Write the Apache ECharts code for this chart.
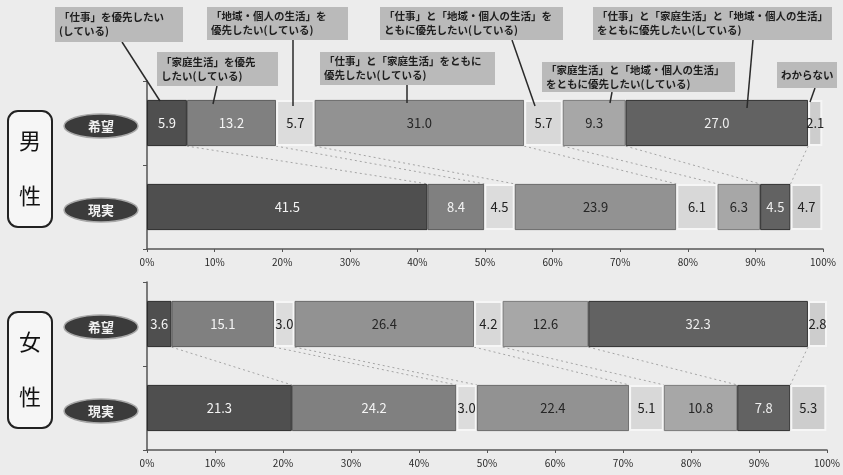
<!DOCTYPE html>
<html><head><meta charset="utf-8">
<script src="https://cdn.jsdelivr.net/npm/echarts@6/dist/echarts.min.js"></script>
<style>html,body{margin:0;padding:0;background:#ececec}#c{width:843px;height:475px}</style>
</head><body><div id="c"></div>
<script>
// ---- data ----
const categories = ['希望', '現実'];
const groupLabels = ['男性', '女性'];
const seriesNames = [
  '「仕事」を優先したい(している)',
  '「家庭生活」を優先したい(している)',
  '「地域・個人の生活」を優先したい(している)',
  '「仕事」と「家庭生活」をともに優先したい(している)',
  '「仕事」と「地域・個人の生活」をともに優先したい(している)',
  '「家庭生活」と「地域・個人の生活」をともに優先したい(している)',
  '「仕事」と「家庭生活」と「地域・個人の生活」をともに優先したい(している)',
  'わからない'
];
const maleWish   = [5.9, 13.2, 5.7, 31.0, 5.7, 9.3, 27.0, 2.1];
const maleReal   = [41.5, 8.4, 4.5, 23.9, 6.1, 6.3, 4.5, 4.7];
const femaleWish = [3.6, 15.1, 3.0, 26.4, 4.2, 12.6, 32.3, 2.8];
const femaleReal = [21.3, 24.2, 3.0, 22.4, 5.1, 10.8, 7.8, 5.3];
const xTickValues = [0, 10, 20, 30, 40, 50, 60, 70, 80, 90, 100];

// callout texts (男性・希望 row)
const calloutTexts = [
  '「仕事」を優先したい\n(している)',
  '「家庭生活」を優先\nしたい(している)',
  '「地域・個人の生活」を\n優先したい(している)',
  '「仕事」と「家庭生活」をともに\n優先したい(している)',
  '「仕事」と「地域・個人の生活」を\nともに優先したい(している)',
  '「家庭生活」と「地域・個人の生活」\nをともに優先したい(している)',
  '「仕事」と「家庭生活」と「地域・個人の生活」\nをともに優先したい(している)',
  'わからない'
];

// ---- style / layout ----
const fills = ['#4f4f4f', '#808080', '#dcdcdc', '#929292', '#d8d8d8', '#a7a7a7', '#626262', '#cdcdcd'];
const labelColors = ['#f4f4f4', '#f4f4f4', '#222', '#262626', '#222', '#262626', '#eeeeee', '#222'];
const borders = [['#2b2b2b', 1], ['#5a5a5a', 1], ['#f6f6f6', 2], ['#6a6a6a', 1], ['#f6f6f6', 2], ['#7a7a7a', 1], ['#2e2e2e', 1], ['#f6f6f6', 2]];
const grids = [
  { left: 147, right: 20, top: 81, height: 168 },
  { left: 147, right: 16, top: 282, height: 168 }
];
const calloutBoxes = [
  { x: 55, y: 7, w: 128, h: 35, lx1: 122, ly1: 42, lx2: 160, ly2: 101 },
  { x: 157, y: 52, w: 121, h: 34, lx1: 217, ly1: 86, lx2: 213, ly2: 104 },
  { x: 207, y: 7, w: 141, h: 33, lx1: 293, ly1: 40, lx2: 293, ly2: 106 },
  { x: 320, y: 52, w: 175, h: 33, lx1: 407, ly1: 85, lx2: 407, ly2: 103 },
  { x: 380, y: 7, w: 183, h: 33, lx1: 512, ly1: 40, lx2: 535, ly2: 106 },
  { x: 542, y: 62, w: 193, h: 30, lx1: 612, ly1: 92, lx2: 610, ly2: 103 },
  { x: 593, y: 7, w: 239, h: 33, lx1: 753, ly1: 40, lx2: 747, ly2: 108 },
  { x: 777, y: 62, w: 60, h: 26, lx1: 815, ly1: 88, lx2: 810, ly2: 102 }
];
const BAR_RATIO = 0.55;
const FONT = '"Noto Sans CJK JP", "Noto Sans", sans-serif';

const groups = [[maleWish, maleReal], [femaleWish, femaleReal]];

function cumulative(arr) {
  let s = 0;
  return arr.slice(0, -1).map(v => (s += v, +s.toFixed(1)));
}

const chart = echarts.init(document.getElementById('c'));

const xAxes = grids.map((g, i) => ({
  type: 'value', gridIndex: i, min: 0, max: 100, interval: 10,
  axisLine: { show: true, lineStyle: { color: '#555', width: 1.5 } },
  axisTick: { show: true, length: 3, lineStyle: { color: '#555' } },
  splitLine: { show: false },
  axisLabel: { formatter: v => xTickValues.includes(v) ? v + '%' : '', color: '#2a2a2a', fontSize: 10, fontFamily: FONT, margin: 8 }
}));
const yAxes = grids.map((g, i) => ({
  type: 'category', gridIndex: i, data: categories, inverse: true,
  axisLine: { show: true, lineStyle: { color: '#555', width: 1.5 } },
  axisTick: { show: true, length: 4, lineStyle: { color: '#555' } },
  axisLabel: { show: false }
}));

const series = [];
groups.forEach((grp, gi) => {
  seriesNames.forEach((name, si) => {
    series.push({
      type: 'bar', name, stack: 'g' + gi, xAxisIndex: gi, yAxisIndex: gi,
      barWidth: (BAR_RATIO * 100) + '%',
      data: [grp[0][si], grp[1][si]],
      itemStyle: { color: fills[si], borderColor: borders[si][0], borderWidth: borders[si][1] },
      label: { show: true, position: 'inside', formatter: p => p.value.toFixed(1), color: labelColors[si], fontSize: 13, fontFamily: FONT },
      emphasis: { disabled: true }
    });
  });
  const cw = cumulative(grp[0]);
  const cr = cumulative(grp[1]);
  series.push({
    type: 'custom', xAxisIndex: gi, yAxisIndex: gi, silent: true, z: 1,
    encode: { x: 0, y: 1 },
    data: cw.map((w, i) => [w, 0, cr[i]]),
    renderItem: (params, api) => {
      const band = api.size([0, 1])[1];
      const h = band * BAR_RATIO / 2;
      const p1 = api.coord([api.value(0), 0]);
      const p2 = api.coord([api.value(2), 1]);
      return { type: 'line', shape: { x1: p1[0], y1: p1[1] + h, x2: p2[0], y2: p2[1] - h },
        style: { stroke: '#a5a5a5', lineDash: [2, 3], lineWidth: 1 } };
    }
  });
});

chart.setOption({
  backgroundColor: '#ececec',
  animation: false,
  grid: grids,
  xAxis: xAxes,
  yAxis: yAxes,
  series
});

// ---- graphics: group boxes, category ellipses, callouts ----
const gfx = [];
groupLabels.forEach((gl, gi) => {
  const top = chart.convertToPixel({ gridIndex: gi }, [0, 0])[1];
  const bot = chart.convertToPixel({ gridIndex: gi }, [0, 1])[1];
  const midY = (top + bot) / 2 + 4;
  gfx.push({ type: 'rect', shape: { x: 8, y: midY - 58, width: 44, height: 116, r: 10 },
    style: { fill: '#f6f6f6', stroke: '#222', lineWidth: 2 }, z: 10 });
  gfx.push({ type: 'text', x: 30, y: midY - 28, style: { text: gl[0], fill: '#111', font: '22px ' + FONT, align: 'center', verticalAlign: 'middle' }, z: 11 });
  gfx.push({ type: 'text', x: 30, y: midY + 27, style: { text: gl[1], fill: '#111', font: '22px ' + FONT, align: 'center', verticalAlign: 'middle' }, z: 11 });
  categories.forEach((c, ci) => {
    const y = chart.convertToPixel({ gridIndex: gi }, [0, ci])[1] + 3;
    gfx.push({ type: 'ellipse', shape: { cx: 101, cy: y, rx: 37, ry: 12 },
      style: { fill: '#3b3b3b', stroke: '#a8a8a8', lineWidth: 1.5 }, z: 10 });
    gfx.push({ type: 'text', x: 101, y: y, style: { text: c, fill: '#f2f2f2', font: 'bold 13px ' + FONT, align: 'center', verticalAlign: 'middle' }, z: 11 });
  });
});
calloutBoxes.forEach((b, i) => {
  gfx.push({ type: 'line', shape: { x1: b.lx1, y1: b.ly1, x2: b.lx2, y2: b.ly2 },
    style: { stroke: '#2a2a2a', lineWidth: 1.5 }, z: 20 });
  gfx.push({ type: 'rect', shape: { x: b.x, y: b.y, width: b.w, height: b.h },
    style: { fill: '#bababa' }, z: 20 });
  gfx.push({ type: 'text', x: b.x + 4, y: b.y + b.h / 2,
    style: { text: calloutTexts[i], fill: '#1e1e1e', font: 'bold 10.5px ' + FONT, lineHeight: 14, align: 'left', verticalAlign: 'middle' }, z: 21 });
});
chart.setOption({ graphic: gfx });
</script></body></html>
